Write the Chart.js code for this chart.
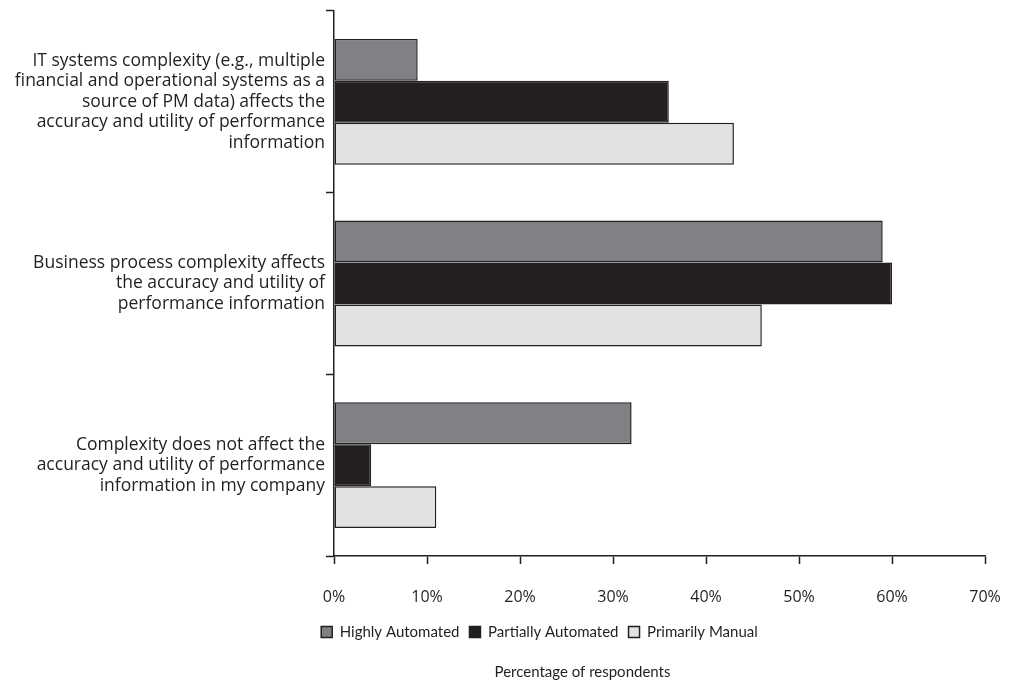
<!DOCTYPE html>
<html>
<head>
<meta charset="utf-8">
<script src="https://cdn.jsdelivr.net/npm/chart.js@4.4.1/dist/chart.umd.min.js"></script>
<style>
  html, body { margin: 0; padding: 0; background: #fff; }
  #wrap { width: 1011px; height: 683px; }
</style>
</head>
<body>
<div id="wrap"><canvas id="complexityChart"></canvas></div>
<script>
var categories = [
  ["IT systems complexity (e.g., multiple", "financial and operational systems as a", "source of PM data) affects the", "accuracy and utility of performance", "information"],
  ["Business process complexity affects", "the accuracy and utility of", "performance information"],
  ["Complexity does not affect the", "accuracy and utility of performance", "information in my company"]
];
var highlyAutomated = [9, 59, 32];
var partiallyAutomated = [36, 60, 4];
var primarilyManual = [43, 46, 11];
var xTicks = [0, 10, 20, 30, 40, 50, 60, 70];

var ink = "#231f20";
var labelFont = "'Open Sans', sans-serif";
var narrowFont = "Lato, sans-serif";

// legend and axis title sit right of the canvas centre in the original
var footerShift = {
  id: "footerShift",
  afterLayout: function(chart) {
    chart.legend.left += 47;
    chart.legend.right += 47;
    chart.titleBlock.left += 90;
    chart.titleBlock.right += 90;
  }
};

var chartElement = document.getElementById("complexityChart");
var complexityChart = new Chart(chartElement, {
  type: "bar",
  data: {
    labels: categories,
    datasets: [{
      label: "Highly Automated",
      data: highlyAutomated,
      backgroundColor: "#808184",
      borderColor: ink,
      borderWidth: 1.5,
      borderSkipped: false
    }, {
      label: "Partially Automated",
      data: partiallyAutomated,
      backgroundColor: "#231f20",
      borderColor: ink,
      borderWidth: 1.5,
      borderSkipped: false
    }, {
      label: "Primarily Manual",
      data: primarilyManual,
      backgroundColor: "#e1e2e4",
      borderColor: ink,
      borderWidth: 1.5,
      borderSkipped: false
    }]
  },
  plugins: [footerShift],
  options: {
    indexAxis: "y",
    responsive: true,
    maintainAspectRatio: false,
    animation: false,
    events: [],
    categoryPercentage: 0.693,
    barPercentage: 1,
    layout: { padding: { top: 11, right: 26, left: 0, bottom: 0 } },
    scales: {
      x: {
        min: 0,
        max: 70,
        afterBuildTicks: function(scale) {
          scale.ticks = xTicks.map(function(v) { return { value: v }; });
        },
        afterFit: function(scale) {
          scale.height = 58.5;
          scale.paddingLeft = 0;
          scale.paddingRight = 0;
        },
        border: { display: true, color: ink, width: 1.5 },
        grid: { drawOnChartArea: false, drawTicks: true, tickLength: 8, color: ink, tickWidth: 1.5 },
        ticks: {
          padding: 24,
          color: ink,
          font: { family: labelFont, size: 16 },
          maxRotation: 0,
          callback: function(v) { return v + "%"; }
        }
      },
      y: {
        offset: true,
        afterFit: function(scale) {
          scale.width = 334;
          scale.paddingTop = 0;
          scale.paddingBottom = 0;
        },
        border: { display: true, color: ink, width: 1.5 },
        grid: { offset: true, drawOnChartArea: false, drawTicks: true, tickLength: 8, color: ink, tickWidth: 1.5 },
        ticks: {
          padding: 1,
          color: ink,
          font: { family: labelFont, size: 17.5, lineHeight: 1.18 }
        }
      }
    },
    plugins: {
      tooltip: { enabled: false },
      legend: {
        position: "bottom",
        labels: {
          boxWidth: 11,
          boxHeight: 11,
          padding: 10,
          color: ink,
          font: { family: narrowFont, size: 15 }
        }
      },
      title: {
        display: true,
        position: "bottom",
        text: "Percentage of respondents",
        color: ink,
        font: { family: narrowFont, size: 15, weight: "normal" },
        padding: { top: 13.5, bottom: 2 }
      }
    }
  }
});
</script>
</body>
</html>
